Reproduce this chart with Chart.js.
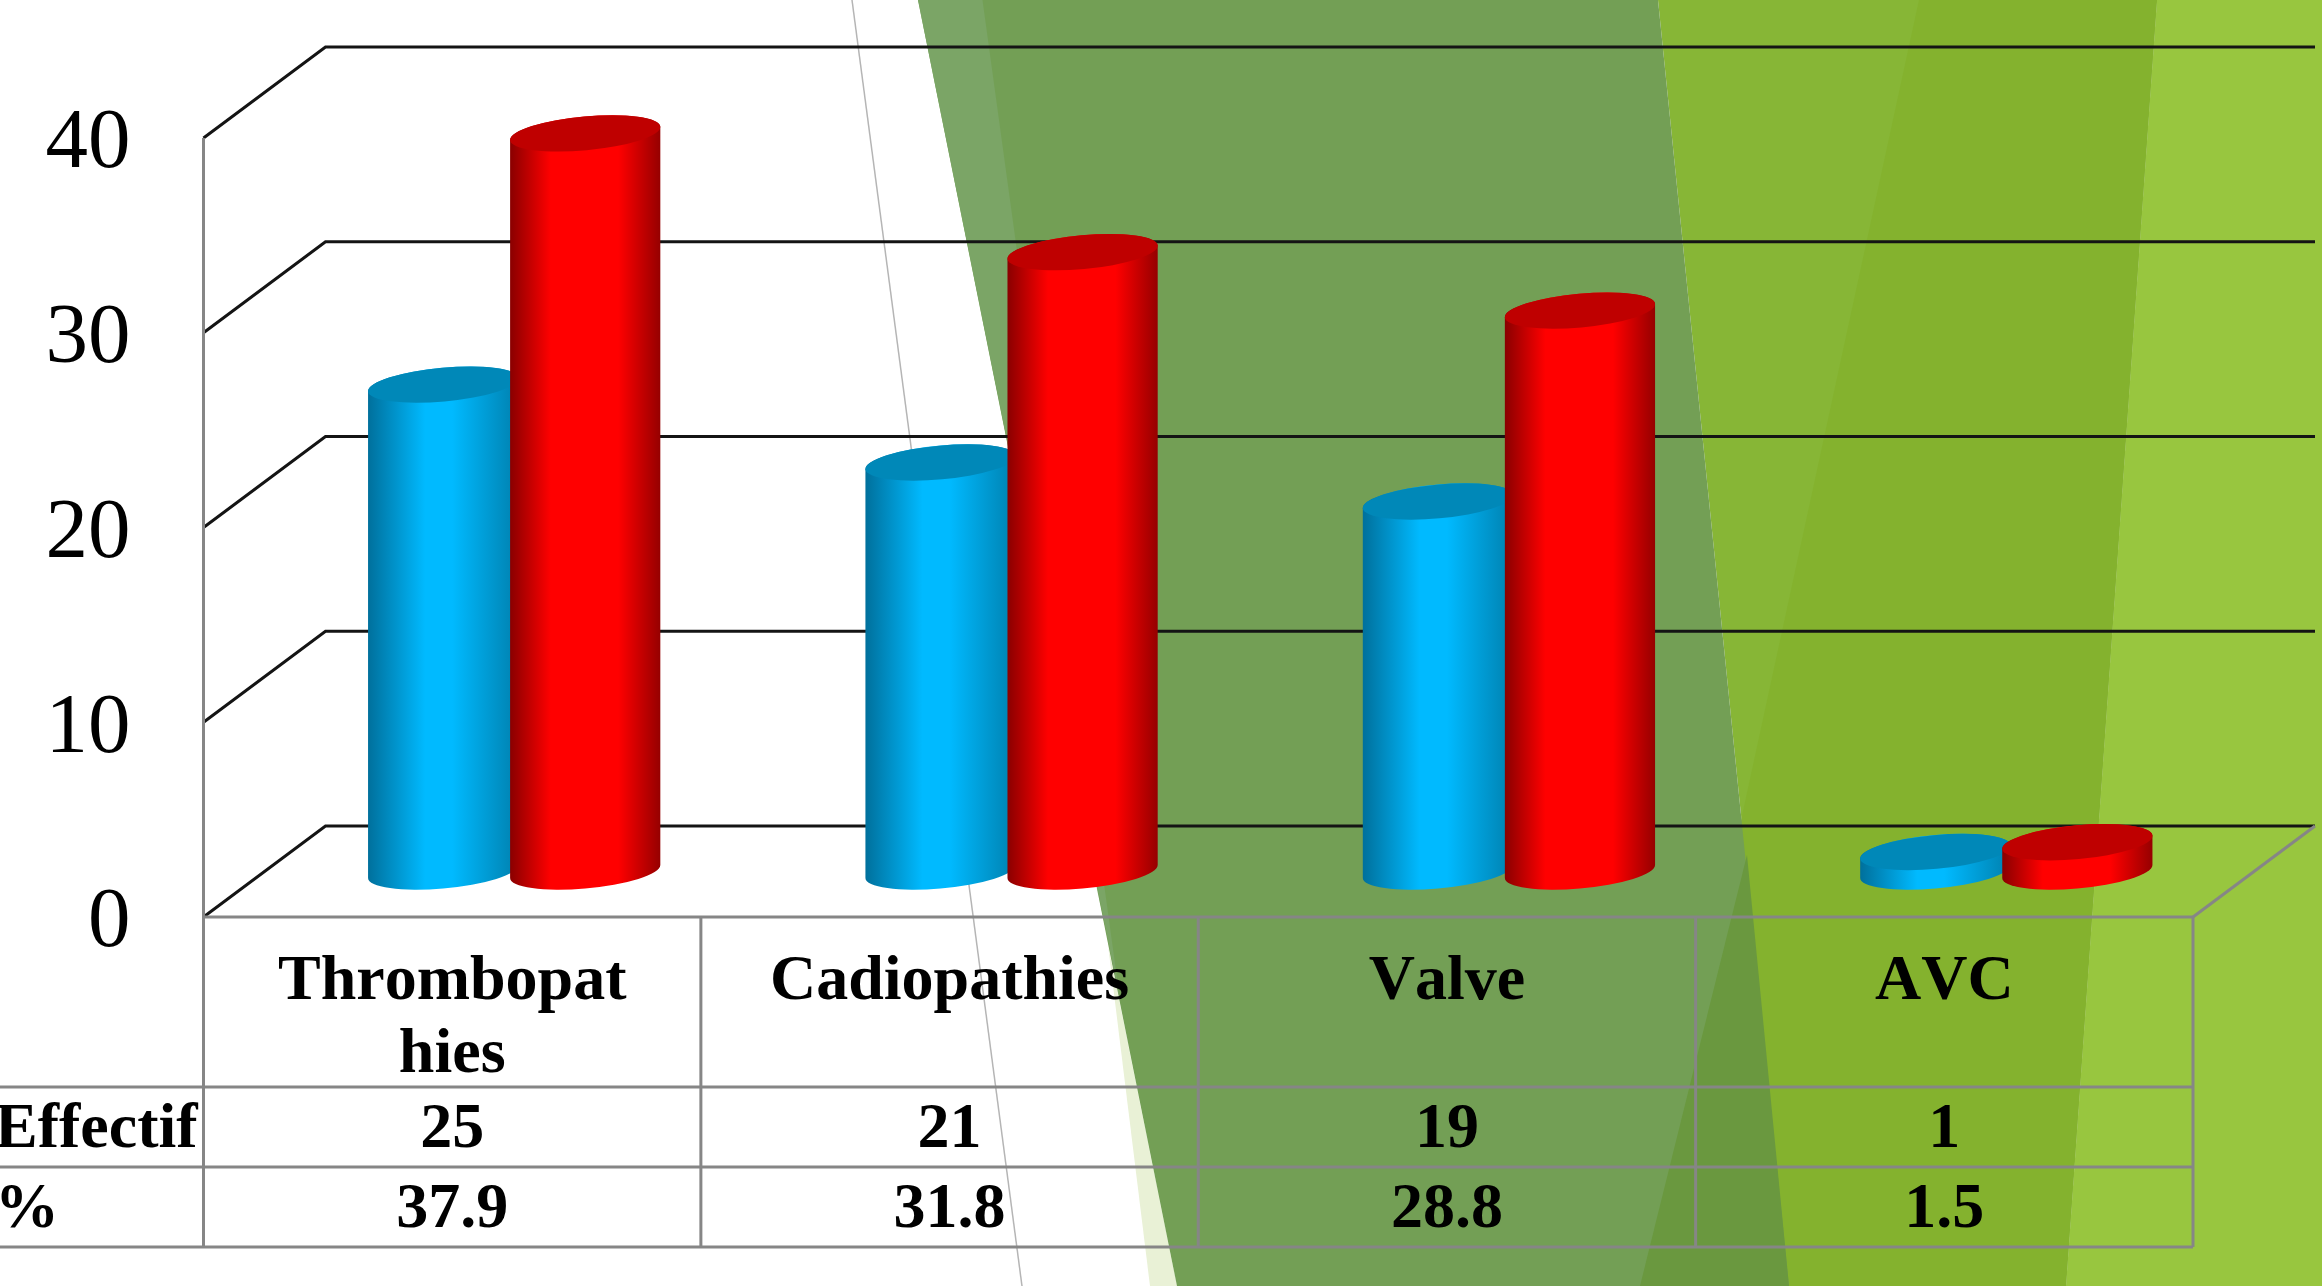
<!DOCTYPE html>
<html><head><meta charset="utf-8">
<style>html,body{margin:0;padding:0;background:#fff;overflow:hidden}canvas{display:block}</style>
<script src="https://cdn.jsdelivr.net/npm/chart.js@4/dist/chart.umd.js"></script>
</head><body>
<canvas id="c" width="2322" height="1286"></canvas>
<script>
const categories = [["Thrombopat","hies"],"Cadiopathies","Valve","AVC"];
const effectif = [25,21,19,1];
const percent = [37.9,31.8,28.8,1.5];
const rowLabels = ["Effectif","%"];
const yTicks = [0,10,20,30,40];

const DEPTH_X = 122, DEPTH_Y = 91;
const SERIF = '"Liberation Serif","Times New Roman",serif';
const BLUE = '#00baff', RED = '#ff0000';

function poly(ctx, color, pts){
  ctx.fillStyle = color; ctx.beginPath();
  pts.forEach((p,i)=> i?ctx.lineTo(p[0],p[1]):ctx.moveTo(p[0],p[1]));
  ctx.closePath(); ctx.fill();
}

/* Cylinder look for the library's own bar elements */
const ROT = -5.2*Math.PI/180, MINOR = 16.9;
const tones = {
  [BLUE]:{edgeL:'#00709c',mid:'#00baff',edgeR:'#0080ae',cap:'#0088b8',s1:0.38,s2:0.56},
  [RED]:{edgeL:'#8a0000',mid:'#ff0000',edgeR:'#960000',cap:'#bf0000',s1:0.27,s2:0.72}
};
function drawCylinder(ctx, bar){
  const t = tones[bar.options.backgroundColor];
  const cx = bar.x + DEPTH_X/2 + 1, top = bar.y - DEPTH_Y/2, base = bar.base - DEPTH_Y/2;
  const hw = bar.width/2, A = hw+0.4;
  const t0 = Math.atan((MINOR/A)*Math.tan(-ROT));
  ctx.save();
  const g = ctx.createLinearGradient(cx-hw,0,cx+hw,0);
  g.addColorStop(0,t.edgeL); g.addColorStop(t.s1,t.mid); g.addColorStop(t.s2,t.mid); g.addColorStop(1,t.edgeR);
  ctx.fillStyle = g;
  ctx.beginPath();
  ctx.ellipse(cx,base,A,MINOR,ROT,t0,t0+Math.PI);
  ctx.ellipse(cx,top,A,MINOR,ROT,t0+Math.PI,t0);
  ctx.closePath(); ctx.fill();
  ctx.fillStyle = t.cap;
  ctx.beginPath(); ctx.ellipse(cx,top,A,MINOR,ROT,0,Math.PI*2); ctx.fill();
  ctx.restore();
}
/* The elements are positioned by the library; they are painted in series order below. */
Chart.BarElement.prototype.draw = function(){};

const backdrop = {
  id:'backdrop',
  beforeDraw(chart){
    const c = chart.ctx, H = 1286, W = 2322;
    c.fontKerning = 'none';
    c.save();
    c.fillStyle='#fff'; c.fillRect(0,0,W,H);
    c.strokeStyle='#b5b5b5'; c.lineWidth=1.5;
    c.beginPath(); c.moveTo(852,0); c.lineTo(1022,H); c.stroke();
    poly(c,'#e9f1d6',[[1108,945],[1177,H],[1150,H]]);
    poly(c,'#98c63f',[[2157,0],[W,0],[W,H],[2066,H]]);
    poly(c,'#87b636',[[1658,0],[2157,0],[2066,H],[1789,H]]);
    poly(c,'#84b22e',[[1919,0],[2157,0],[2066,H],[1640,H]]);
    poly(c,'#739f55',[[918,0],[1658,0],[1789,H],[1177,H]]);
    poly(c,'#7ba566',[[918,0],[982.5,0],[1120,1000]]);
    poly(c,'#6a983f',[[1747,855],[1789,H],[1640,H]]);
    c.restore();
  },
  beforeDatasetsDraw(chart){
    const c = chart.ctx, y = chart.scales.y, a = chart.chartArea;
    c.save();
    c.strokeStyle='#141414'; c.lineWidth=3;
    yTicks.forEach(v=>{
      const py = y.getPixelForValue(v);
      c.beginPath(); c.moveTo(a.left,py); c.lineTo(a.left+DEPTH_X,py-DEPTH_Y);
      c.lineTo(a.right+DEPTH_X,py-DEPTH_Y); c.stroke();
    });
    c.strokeStyle='#868686'; c.lineWidth=3;
    c.beginPath(); c.moveTo(a.right,a.bottom); c.lineTo(a.right+DEPTH_X,a.bottom-DEPTH_Y); c.stroke();
    c.beginPath(); c.moveTo(a.left,a.top); c.lineTo(a.left,a.bottom); c.stroke();
    c.restore();
  },
  afterDatasetsDraw(chart){
    [0,1].forEach(d=>chart.getDatasetMeta(d).data.forEach(bar=>drawCylinder(chart.ctx,bar)));
  },
  afterDraw(chart){
    const c = chart.ctx, a = chart.chartArea, x = chart.scales.x;
    const rows = [1087,1167,1247];
    c.save();
    c.strokeStyle='#868686'; c.lineWidth=3;
    c.beginPath(); c.moveTo(a.left,a.bottom); c.lineTo(a.right,a.bottom);
    rows.forEach(r=>{c.moveTo(0,r); c.lineTo(a.right,r);});
    const cw = (a.right-a.left)/categories.length;
    for(let i=0;i<=categories.length;i++){ c.moveTo(a.left+i*cw,a.bottom); c.lineTo(a.left+i*cw,rows[2]); }
    c.stroke();
    c.fillStyle='#000'; c.font='bold 64px '+SERIF; c.textBaseline='alphabetic';
    c.textAlign='left';
    c.fillText(rowLabels[0],-5,1147);
    c.fillText(rowLabels[1],-5,1227);
    c.textAlign='center';
    effectif.forEach((v,i)=>{
      c.fillText(String(v),x.getPixelForTick(i),1147);
      c.fillText(percent[i].toFixed(1),x.getPixelForTick(i),1227);
    });
    c.restore();
  }
};

new Chart(document.getElementById('c'),{
  type:'bar',
  plugins:[backdrop],
  data:{labels:categories,datasets:[
    {label:rowLabels[0],data:effectif,backgroundColor:BLUE,clip:false},
    {label:rowLabels[1],data:percent,backgroundColor:RED,clip:false}
  ]},
  options:{
    responsive:false,animation:false,devicePixelRatio:1,
    layout:{padding:{top:138,right:129,left:0,bottom:0}},
    categoryPercentage:0.5712,barPercentage:1.056,
    plugins:{legend:{display:false},tooltip:{enabled:false},title:{display:false}},
    scales:{
      x:{
        afterFit(s){s.height=369;},
        grid:{display:false,drawTicks:false},border:{display:false},
        ticks:{autoSkip:false,maxRotation:0,minRotation:0,padding:29,color:'#000',
          font:{family:SERIF,size:64,weight:'bold',lineHeight:1.14}}
      },
      y:{
        min:0,max:40,
        afterFit(s){s.width=203.5;},
        afterBuildTicks(s){s.ticks=yTicks.map(v=>({value:v}));},
        grid:{display:false,drawTicks:false},border:{display:false},
        ticks:{padding:73,labelOffset:7,color:'#000',font:{family:SERIF,size:85}}
      }
    }
  }
});
</script>
</body></html>
